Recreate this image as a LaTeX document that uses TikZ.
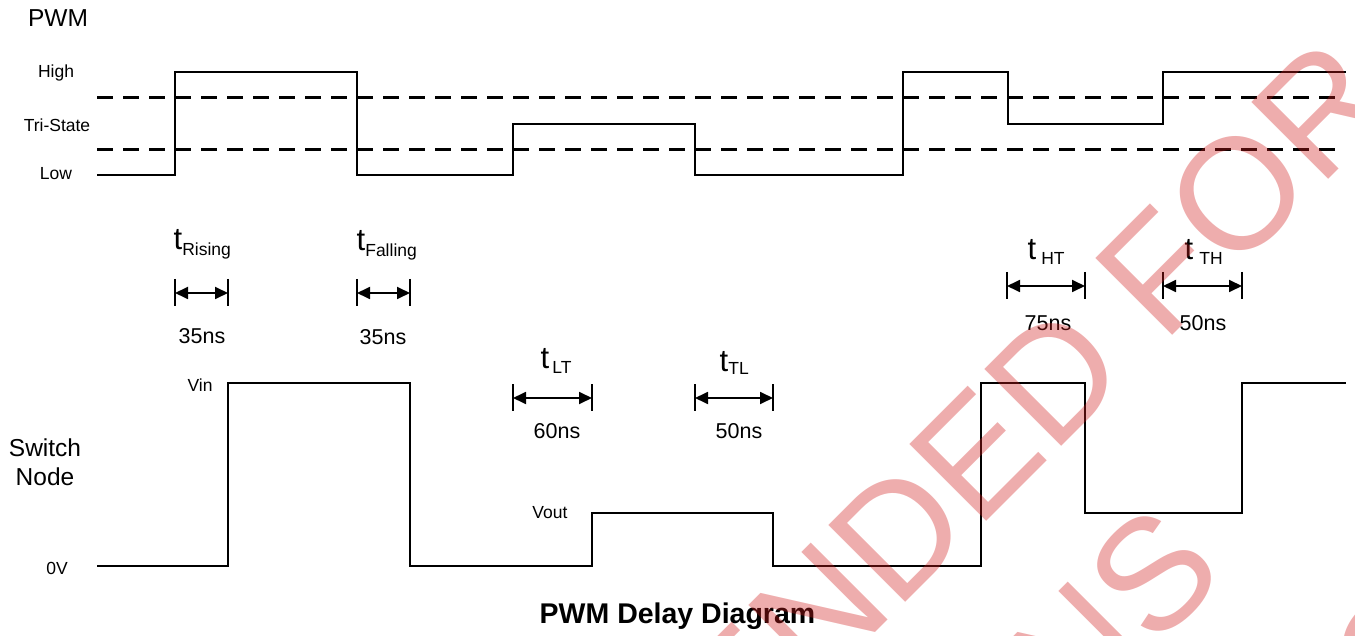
\documentclass[tikz,border=0pt]{standalone}
\usepackage{fontspec}
\setmainfont{Liberation Sans}
\usetikzlibrary{arrows.meta}
\definecolor{wmred}{RGB}{208,28,28}
\newcommand{\tlbl}[3]{{\fontsize{31}{31}\selectfont t}\hspace{#2}\raisebox{-#3}{\fontsize{17.5}{18}\selectfont #1}}
\begin{document}
\begin{tikzpicture}[x=1pt,y=-1pt,
  wave/.style={line width=2pt,line join=miter},
  thresh/.style={line width=3pt,dash pattern=on 16pt off 10pt},
  lvl/.style={inner sep=0pt,font=\fontsize{17.5}{20}\selectfont},
  big/.style={inner sep=0pt,font=\fontsize{24.5}{29}\selectfont,align=center},
  val/.style={inner sep=0pt,font=\fontsize{21.5}{24}\selectfont},
  tl/.style={inner sep=0pt,anchor=base west},
  dimbar/.style={line width=1.8pt},
  dimarrow/.style={line width=1.8pt,{Triangle[length=13pt,width=12pt]}-{Triangle[length=13pt,width=12pt]}},
  wm/.style={inner sep=0pt,rotate=45,text=wmred,opacity=0.36,font=\fontsize{158}{158}\selectfont}]
\useasboundingbox (0,0) rectangle (1355,636);

% labels
\node[big] (pwm) at (58,18) {PWM};
\node[lvl] (high) at (56,73) {High};
\node[lvl] (tri) at (57,125) {Tri-State};
\node[lvl] (low) at (56,174) {Low};
\node[big] (sw) at (45,462) {Switch\\Node};
\node[lvl] (vin) at (200,385) {Vin};
\node[lvl] (vout) at (550,513) {Vout};
\node[lvl] (zero) at (57,568) {0V};

% thresholds
\coordinate (d1a) at (97,98); \coordinate (d1b) at (1337,98);
\coordinate (d2a) at (97,150); \coordinate (d2b) at (1337,150);
\draw[thresh] (d1a) -- (d1b);
\draw[thresh] (d2a) -- (d2b);

% PWM waveform
\draw[wave] (97,175) -- (175,175) -- (175,72) -- (357,72) -- (357,175) -- (513,175)
  -- (513,124) -- (695,124) -- (695,175) -- (903,175) -- (903,72) -- (1008,72)
  -- (1008,124) -- (1163,124) -- (1163,72) -- (1346,72);

% switch node waveform
\draw[wave] (97,566) -- (228,566) -- (228,383) -- (410,383) -- (410,566) -- (592,566)
  -- (592,513) -- (773,513) -- (773,566) -- (981,566) -- (981,383) -- (1085,383)
  -- (1085,513) -- (1242,513) -- (1242,383) -- (1346,383);

% dimension markers
\foreach \xa/\xb/\yc/\nm in {175/228/293/ris,357/410/293/fal,513/592/398/lt,695/773/398/tlo,1007/1085/286/ht,1163/1242/286/th}{
  \coordinate (\nm-l) at (\xa,\yc);
  \coordinate (\nm-r) at (\xb,\yc);
  \draw[dimbar] (\xa,\yc-14) -- (\xa,\yc+13);
  \draw[dimbar] (\xb,\yc-14) -- (\xb,\yc+13);
  \draw[dimarrow] (\nm-l) -- (\nm-r);
}

% time labels
\node[tl] (tris) at (173.5,250) {\tlbl{Rising}{0pt}{6pt}};
\node[tl] (tfal) at (356.5,251) {\tlbl{Falling}{0pt}{6pt}};
\node[tl] (tlt) at (540.5,369) {\tlbl{LT}{3pt}{5pt}};
\node[tl] (ttl) at (719.5,371) {\tlbl{TL}{0pt}{3pt}};
\node[tl] (tht) at (1027.5,260) {\tlbl{HT}{5pt}{5pt}};
\node[tl] (tth) at (1184.5,260) {\tlbl{TH}{6pt}{5pt}};

% values
\node[val] (v1) at (202,336) {35ns};
\node[val] (v2) at (383,337) {35ns};
\node[val] (v3) at (557,431) {60ns};
\node[val] (v4) at (739,431) {50ns};
\node[val] (v5) at (1048,323) {75ns};
\node[val] (v6) at (1203,323) {50ns};

% title
\node[inner sep=0pt,anchor=base,font=\fontsize{28.5}{32}\selectfont\bfseries] (title) at (677.5,623) {PWM Delay Diagram};

% watermark
\begin{scope}
\clip (0,0) rectangle (1355,636);
\node[wm,anchor=base east] (wm1) at (1400,108) {NOT RECOMMENDED FOR};
\node[wm,anchor=base east] (wm2) at (1229,575) {NEW DESIGNS};
\node[wm,anchor=center] (wm3) at (1397,652) {C};
\end{scope}
\end{tikzpicture}
\end{document}
